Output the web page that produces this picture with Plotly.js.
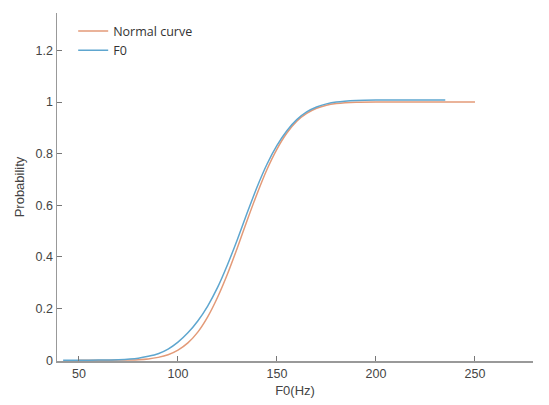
<!DOCTYPE html>
<html>
<head>
<meta charset="utf-8">
<script src="https://cdn.plot.ly/plotly-3.0.1.min.js"></script>
<style>html,body{margin:0;padding:0;background:#fff;}#chart{width:549px;height:405px;}</style>
</head>
<body>
<div id="chart"></div>
<script>
// Normal curve (orange)
var normalX = [50, 60, 70, 80, 85, 90, 95, 100, 105, 110, 115, 120, 125, 130, 135, 140, 145, 150, 155, 160, 165, 170, 175, 180, 190, 200, 210, 220, 230, 240, 250];
var normalY = [0, 0, 0.0004, 0.0023, 0.005, 0.011, 0.021, 0.039, 0.067, 0.109, 0.168, 0.244, 0.334, 0.436, 0.543, 0.646, 0.740, 0.818, 0.880, 0.926, 0.956, 0.976, 0.988, 0.994, 0.999, 1.0, 1.0, 1.0, 1.0, 1.0, 1.0];
// F0 curve (blue)
var f0X = [42, 50, 60, 70, 80, 85, 90, 95, 100, 105, 110, 115, 120, 125, 130, 135, 140, 145, 150, 155, 160, 165, 170, 175, 180, 190, 200, 210, 220, 235];
var f0Y = [0, 0, 0.0004, 0.002, 0.008, 0.015, 0.025, 0.043, 0.070, 0.106, 0.152, 0.210, 0.282, 0.370, 0.468, 0.572, 0.672, 0.760, 0.832, 0.889, 0.932, 0.962, 0.981, 0.993, 1.000, 1.006, 1.008, 1.008, 1.008, 1.008];
var xTicks = [50, 100, 150, 200, 250];
var yTicks = [0, 0.2, 0.4, 0.6, 0.8, 1, 1.2];
var yTickText = ['0', '0.2', '0.4', '0.6', '0.8', '1', '1.2'];

var traces = [
  {x: normalX, y: normalY, type: 'scatter', mode: 'lines', name: 'Normal curve',
   line: {color: '#e39a78', width: 1.5, shape: 'spline', smoothing: 0.6}},
  {x: f0X, y: f0Y, type: 'scatter', mode: 'lines', name: 'F0',
   line: {color: '#5ea6cf', width: 1.5, shape: 'spline', smoothing: 0.6}}
];

var tickFont = {family: 'Liberation Sans, Arial, sans-serif', size: 12.5, color: '#444'};
var layout = {
  width: 549, height: 405,
  margin: {l: 57, r: 16, t: 13, b: 44, pad: 0},
  paper_bgcolor: '#fff', plot_bgcolor: '#fff',
  showlegend: true,
  legend: {x: 0.034, y: 0.99, xanchor: 'left', yanchor: 'top', bgcolor: 'rgba(0,0,0,0)',
           font: {family: 'Open Sans, sans-serif', size: 12.5, color: '#333'}, tracegroupgap: 0},
  xaxis: {range: [38.9, 279.3], tickvals: xTicks, ticks: 'inside', ticklen: 5, tickcolor: '#777',
          showgrid: false, zeroline: false, showline: true, linecolor: '#999', linewidth: 1.5,
          tickfont: tickFont, title: {text: 'F0(Hz)', font: {family: 'Liberation Sans, Arial, sans-serif', size: 13, color: '#444'}, standoff: 6}},
  yaxis: {range: [-0.003, 1.345], tickvals: yTicks, ticktext: yTickText, ticks: 'inside', ticklen: 5, tickcolor: '#777',
          showgrid: false, zeroline: false, showline: true, linecolor: '#999', linewidth: 1.5,
          tickfont: tickFont, title: {text: 'Probability', font: {family: 'Liberation Sans, Arial, sans-serif', size: 13, color: '#444'}, standoff: 8}}
};
Plotly.newPlot('chart', traces, layout, {displayModeBar: false, staticPlot: true});
</script>
</body>
</html>
